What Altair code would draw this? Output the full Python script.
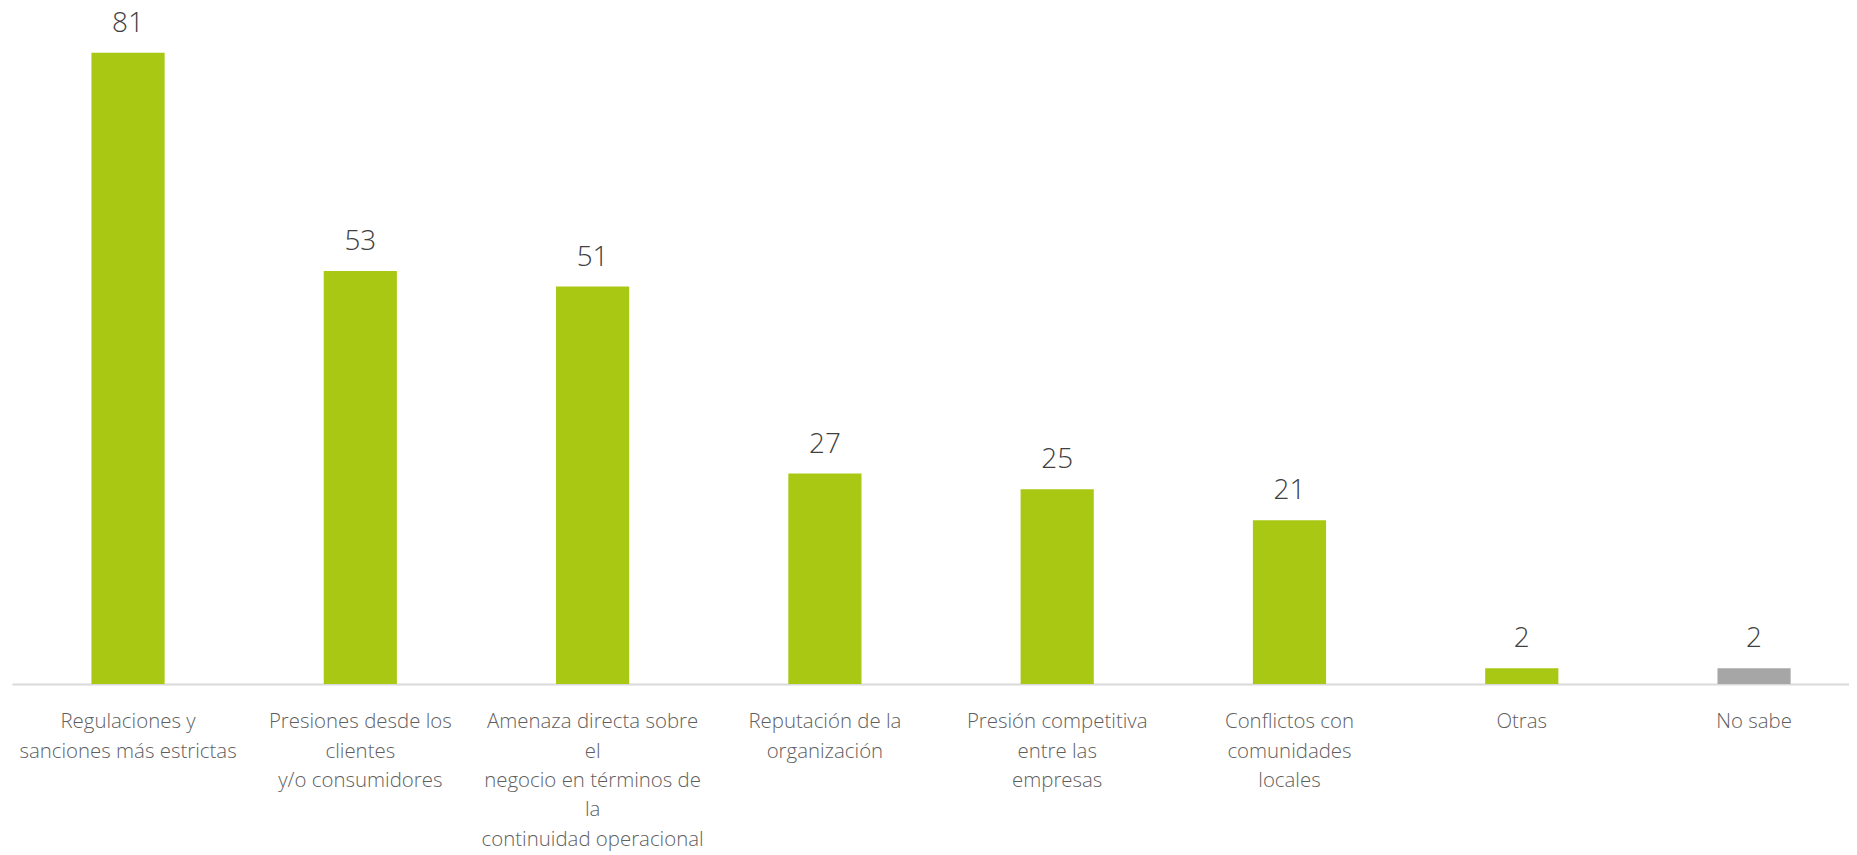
import altair as alt
import pandas as pd

categories = [
    "Regulaciones y\nsanciones más estrictas",
    "Presiones desde los\nclientes\ny/o consumidores",
    "Amenaza directa sobre\nel\nnegocio en términos de\nla\ncontinuidad operacional",
    "Reputación de la\norganización",
    "Presión competitiva\nentre las\nempresas",
    "Conflictos con\ncomunidades\nlocales",
    "Otras",
    "No sabe",
]
values = [81, 53, 51, 27, 25, 21, 2, 2]
groups = ["main", "main", "main", "main", "main", "main", "main", "nosabe"]

df = pd.DataFrame({"cat": categories, "val": values, "grp": groups})

x = alt.X(
    "cat:N",
    sort=categories,
    title=None,
    scale=alt.Scale(paddingInner=0.685, paddingOuter=0.2966, align=0.5766),
    axis=alt.Axis(
        labelAngle=0,
        labelExpr="split(datum.label, '\\n')",
        labelFont="Open Sans",
        labelFontWeight=300,
        labelFontSize=20.5,
        labelColor="#5f5f5f",
        labelLineHeight=29.5,
        labelBaseline="middle",
        labelPadding=38,
        ticks=False,
        tickSize=0,
        domainColor="#D9D9D9",
        domainWidth=2,
        labelLimit=400,
    ),
)
y = alt.Y("val:Q", scale=alt.Scale(domain=[0, 86], nice=False), axis=None)

bars = alt.Chart(df).mark_bar().encode(
    x=x,
    y=y,
    color=alt.Color(
        "grp:N",
        scale=alt.Scale(domain=["main", "nosabe"], range=["#A8C813", "#A6A6A6"]),
        legend=None,
    ),
)

labels = alt.Chart(df).mark_text(
    baseline="alphabetic", dy=-21, font="Open Sans", fontWeight=300, fontSize=28, color="#404040"
).encode(x=x, y=y, text="val:Q")

chart = (
    alt.layer(bars, labels)
    .properties(
        width=1845,
        height=673,
        padding={"left": 4, "top": 4, "right": 0, "bottom": 180},
        autosize=alt.AutoSizeParams(type="none"),
    )
    .configure_view(stroke=None)
)

chart.save("out.html", embed_options={"renderer": "svg", "actions": False})
